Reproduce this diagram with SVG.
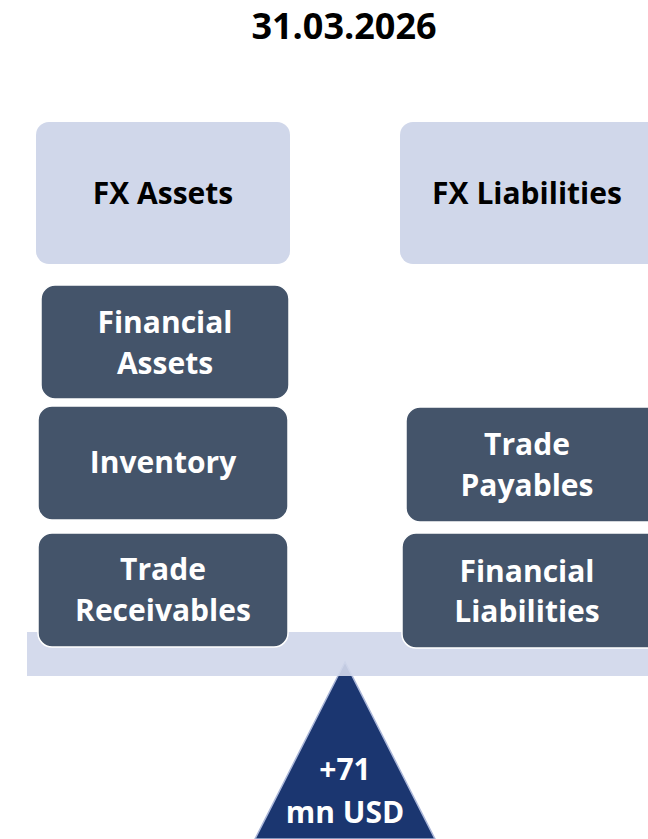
<svg xmlns="http://www.w3.org/2000/svg" width="648" height="839" viewBox="0 0 648 839">
  <style>
    text { font-family: "Open Sans", "Liberation Sans", sans-serif; font-weight: 700; text-anchor: middle; }
    .head { fill: #D0D7EA; }
    .item { fill: #44546A; stroke: #FFFFFF; stroke-width: 1.5; }
    .dark { fill: #000000; font-size: 30px; }
    .light { fill: #FFFFFF; font-size: 30px; }
  </style>
  <rect width="648" height="839" fill="#FFFFFF"/>

  <text x="344" y="39" class="dark" style="font-size:36px">31.03.2026</text>

  <!-- fulcrum -->
  <g id="fulcrum">
    <polygon points="345,662 255,839 435,839" fill="#1B3670" stroke="#AAB6D8" stroke-width="1.5"/>
    <text x="345" y="780" class="light">+71</text>
    <text x="345" y="823" class="light">mn USD</text>
  </g>

  <!-- balance beam -->
  <g id="beam">
    <rect x="27" y="632" width="621" height="44" fill="#D0D7EA" opacity="0.92"/>
  </g>

  <g id="fx-assets">
    <rect x="36" y="122" width="254" height="142" rx="13" class="head"/>
    <text x="163" y="204" class="dark">FX Assets</text>
  </g>
  <g id="fx-liabilities">
    <rect x="400" y="122" width="262" height="142" rx="13" class="head"/>
    <text x="527" y="204" class="dark">FX Liabilities</text>
  </g>

  <g id="financial-assets">
    <rect x="41" y="285" width="248" height="114" rx="14" class="item"/>
    <text x="165" y="333" class="light">Financial</text>
    <text x="165" y="374" class="light">Assets</text>
  </g>
  <g id="inventory">
    <rect x="38" y="406" width="250" height="114" rx="14" class="item"/>
    <text x="163" y="473" class="light">Inventory</text>
  </g>
  <g id="trade-receivables">
    <rect x="38" y="533" width="250" height="114" rx="14" class="item"/>
    <text x="163" y="580" class="light">Trade</text>
    <text x="163" y="621" class="light">Receivables</text>
  </g>

  <g id="trade-payables">
    <rect x="406" y="407" width="256" height="115" rx="14" class="item"/>
    <text x="527" y="455" class="light">Trade</text>
    <text x="527" y="496" class="light">Payables</text>
  </g>
  <g id="financial-liabilities">
    <rect x="402" y="533" width="260" height="115" rx="14" class="item"/>
    <text x="527" y="582" class="light">Financial</text>
    <text x="527" y="622" class="light">Liabilities</text>
  </g>
</svg>
